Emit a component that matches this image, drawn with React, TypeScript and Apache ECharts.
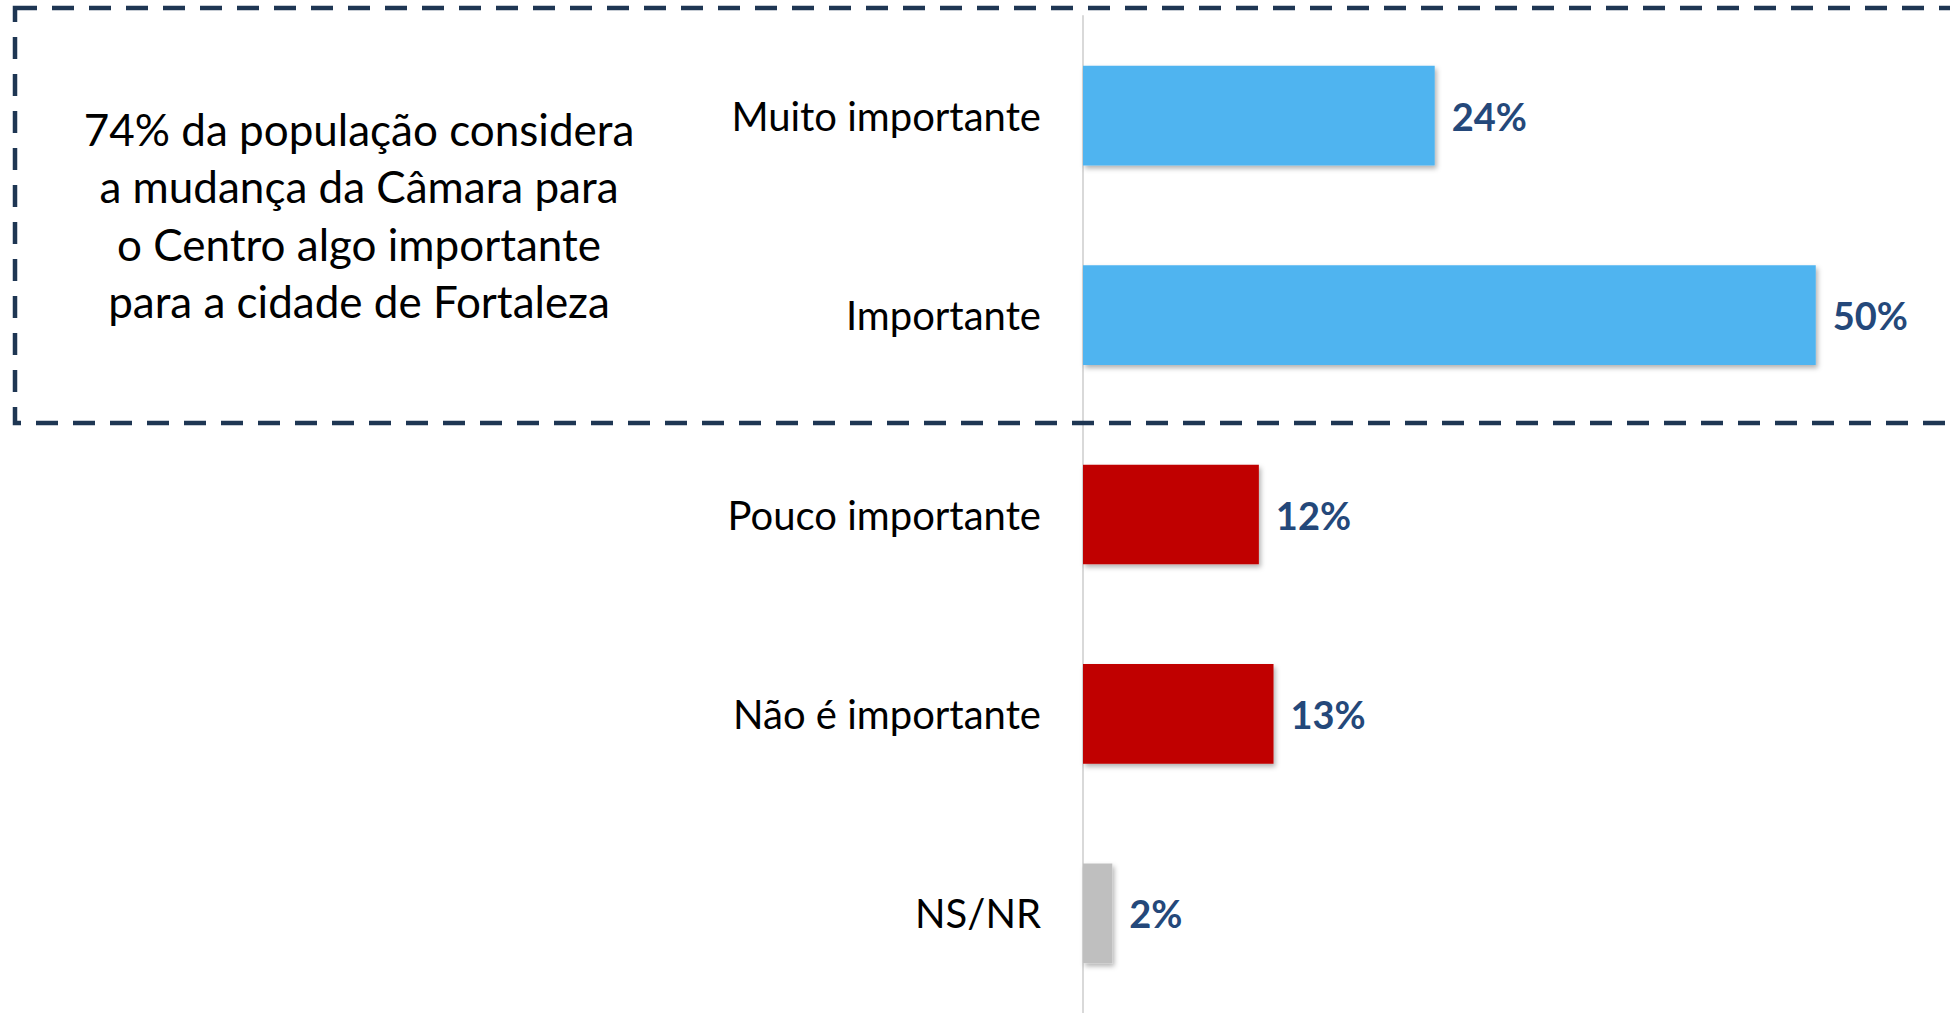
import React, { useEffect, useRef } from "react";
import * as echarts from "echarts";

const categories = ["Muito importante", "Importante", "Pouco importante", "Não é importante", "NS/NR"];
const values = [24, 50, 12, 13, 2];
const barColors = ["#50B4F0", "#50B4F0", "#C00000", "#C00000", "#BFBFBF"];
const noteLines = [
  "74% da população considera",
  "a mudança da Câmara para",
  "o Centro algo importante",
  "para a cidade de Fortaleza",
];

const FONT = "Lato";

export default function App() {
  const ref = useRef<HTMLDivElement>(null);
  useEffect(() => {
    if (!ref.current) return;
    const chart = echarts.init(ref.current, null, { renderer: "svg" });
    chart.setOption({
      animation: false,
      backgroundColor: "#ffffff",
      grid: { left: 1083, top: 16, width: 850, height: 1000, containLabel: false },
      xAxis: { type: "value", min: 0, max: 58, show: false },
      yAxis: {
        type: "category",
        data: categories,
        inverse: true,
        axisLine: { show: true, lineStyle: { color: "#D9D9D9", width: 2 } },
        axisTick: { show: false },
        axisLabel: { color: "#000000", fontSize: 40, fontFamily: FONT, margin: 42 },
      },
      series: [
        {
          type: "bar",
          barWidth: "50%",
          data: values.map((v, i) => ({
            value: v,
            itemStyle: {
              color: barColors[i],
              shadowBlur: 5,
              shadowOffsetX: 2,
              shadowOffsetY: 3,
              shadowColor: "rgba(0,0,0,0.3)",
            },
          })),
          label: {
            show: true,
            position: "right",
            distance: 17,
            formatter: "{c}%",
            color: "#24487A",
            fontWeight: "bold",
            fontSize: 38,
            fontFamily: FONT,
          },
        },
      ],
      graphic: [
        {
          type: "rect",
          shape: { x: 15, y: 8, width: 1960, height: 415 },
          style: { fill: "none", stroke: "#1E3653", lineWidth: 4.5, lineDash: [22, 15] },
          z: 10,
        },
        {
          type: "text",
          x: 359,
          y: 215,
          style: {
            text: noteLines.join("\n"),
            fill: "#000000",
            fontSize: 44,
            fontFamily: FONT,
            lineHeight: 57.6,
            textAlign: "center",
            textVerticalAlign: "middle",
          },
        },
      ],
    });
    return () => chart.dispose();
  }, []);
  return (
    <div
      ref={ref}
      style={{ position: "fixed", left: 0, top: 0, width: 1950, height: 1013 }}
    />
  );
}
